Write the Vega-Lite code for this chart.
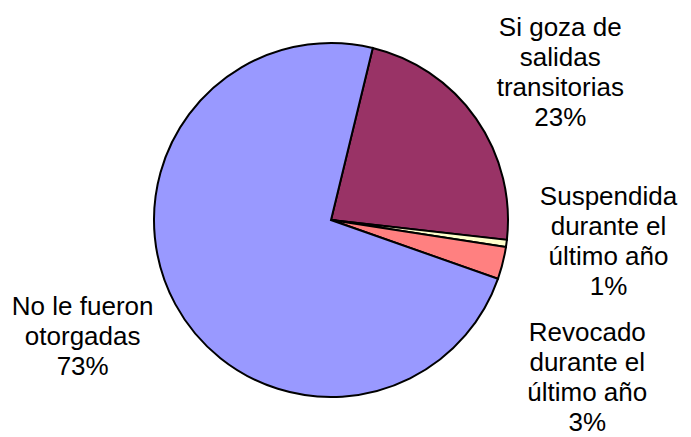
{
  "$schema": "https://vega.github.io/schema/vega-lite/v6.json",
  "width": 662,
  "height": 434,
  "autosize": {"type": "none"},
  "padding": {"left": 0, "top": 3, "right": 29, "bottom": 0},
  "background": "white",
  "config": {"view": {"stroke": null}, "text": {"font": "Liberation Sans"}},
  "data": {
    "values": [
      {"cat": "Si goza de salidas transitorias", "value": 23.0, "ord": 1, "label": "Si goza de\nsalidas\ntransitorias\n23%"},
      {"cat": "Suspendida durante el último año", "value": 0.65, "ord": 2, "label": "Suspendida\ndurante el\núltimo año\n1%"},
      {"cat": "Revocado durante el último año", "value": 2.95, "ord": 3, "label": "Revocado\ndurante el\núltimo año\n3%"},
      {"cat": "No le fueron otorgadas", "value": 73.4, "ord": 4, "label": "No le fueron\notorgadas\n73%"}
    ]
  },
  "encoding": {
    "theta": {"field": "value", "type": "quantitative", "stack": true, "scale": {"range": [0.2382, 6.5214]}},
    "order": {"field": "ord", "type": "quantitative"}
  },
  "layer": [
    {
      "mark": {"type": "arc", "outerRadius": 177, "stroke": "black", "strokeWidth": 2},
      "encoding": {
        "color": {
          "field": "cat", "type": "nominal", "legend": null,
          "scale": {
            "domain": ["Si goza de salidas transitorias", "Suspendida durante el último año", "Revocado durante el último año", "No le fueron otorgadas"],
            "range": ["#993366", "#FFFFCC", "#FF8080", "#9999FF"]
          }
        }
      }
    },
    {
      "mark": {"type": "text", "radius": 270, "dx": 8, "dy": -37, "fontSize": 26, "lineHeight": 30, "lineBreak": "\n", "align": "center", "baseline": "middle", "color": "black"},
      "encoding": {"text": {"condition": {"test": "datum.ord === 1", "field": "label"}, "value": ""}}
    },
    {
      "mark": {"type": "text", "radius": 280, "dx": 0, "dy": -60, "fontSize": 26, "lineHeight": 30, "lineBreak": "\n", "align": "center", "baseline": "middle", "color": "black"},
      "encoding": {"text": {"condition": {"test": "datum.ord === 2", "field": "label"}, "value": ""}}
    },
    {
      "mark": {"type": "text", "radius": 290, "dx": -25, "dy": 42, "fontSize": 26, "lineHeight": 30, "lineBreak": "\n", "align": "center", "baseline": "middle", "color": "black"},
      "encoding": {"text": {"condition": {"test": "datum.ord === 3", "field": "label"}, "value": ""}}
    },
    {
      "mark": {"type": "text", "radius": 270, "dx": -11, "dy": -42, "fontSize": 26, "lineHeight": 30, "lineBreak": "\n", "align": "center", "baseline": "middle", "color": "black"},
      "encoding": {"text": {"condition": {"test": "datum.ord === 4", "field": "label"}, "value": ""}}
    }
  ]
}
